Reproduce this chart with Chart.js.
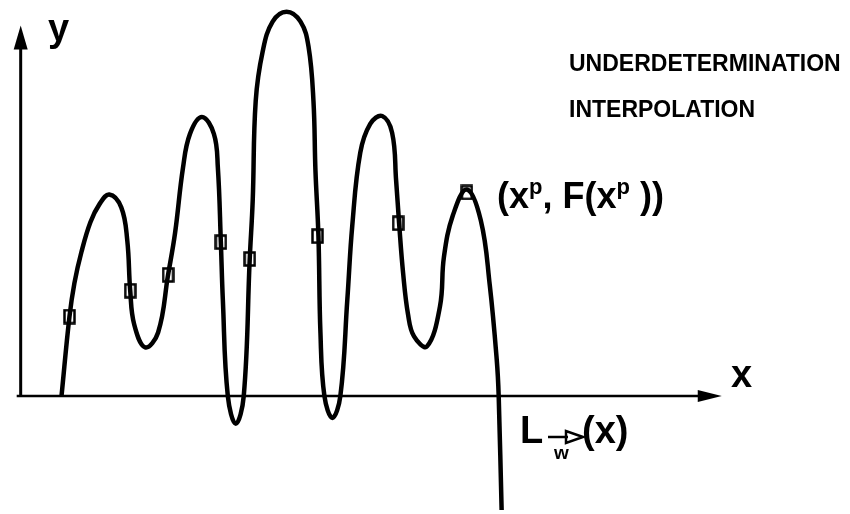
<!DOCTYPE html>
<html>
<head>
<meta charset="utf-8">
<script src="https://cdn.jsdelivr.net/npm/chart.js@4.4.1/dist/chart.umd.min.js"></script>
<style>
  html,body{margin:0;padding:0;background:#fff;}
  #wrap{width:850px;height:514px;}
</style>
</head>
<body>
<div id="wrap"><canvas id="c" width="850" height="514"></canvas></div>
<script>
// curve L_w(x) (x axis at y=0, y axis at x=0)
const curveX=[0.41,0.49,0.54,0.61,0.70,0.79,0.89,1.01,1.07,1.10,1.14,1.25,1.38,1.48,1.55,1.63,1.70,1.82,1.94,1.98,2.01,2.03,2.08,2.16,2.24,2.30,2.33,2.36,2.43,2.53,2.67,2.81,2.89,2.94,2.96,2.99,3.01,3.05,3.13,3.21,3.28,3.33,3.41,3.51,3.63,3.73,3.77,3.80,3.84,3.89,3.95,4.08,4.21,4.25,4.34,4.48,4.62,4.71,4.78,4.80,4.83,4.84];
const curveY=[0,0.80,1.14,1.45,1.75,1.93,2.03,1.90,1.57,1.06,0.72,0.49,0.64,1.22,1.64,2.30,2.64,2.81,2.64,2.30,1.55,0.97,0,-0.28,0,1.38,1.97,2.97,3.47,3.77,3.87,3.77,3.52,2.97,2.27,1.61,0.64,0,-0.22,0,0.97,1.72,2.45,2.74,2.82,2.65,2.17,1.74,1.24,0.82,0.60,0.50,0.90,1.40,1.82,2.08,1.77,1.12,0.37,0,-1.17,-1.43];
// sample points (x^p, F(x^p))
const sampleX=[0.49,1.10,1.48,2.01,2.30,2.98,3.79,4.48];
const sampleY=[0.80,1.06,1.22,1.55,1.38,1.61,1.74,2.05];

// ranges chosen so that the (slightly inset) chart area shows 100 px per unit
const X_MIN=-0.1675, X_MAX=8.2875, Y_MIN=-1.1475, Y_MAX=3.9475;
const AXIS_X_START=-0.04, AXIS_X_END=7.04, AXIS_Y_END=3.73;

// tall open box used as marker
function boxMarker(){
  const c=document.createElement('canvas'); c.width=13; c.height=16;
  const g=c.getContext('2d');
  g.fillStyle='#fff'; g.fillRect(1.5,1.5,10,13);
  g.strokeStyle='#000'; g.lineWidth=2.5; g.strokeRect(1.5,1.5,10,13);
  return c;
}

const FONT='"Liberation Sans", Arial, Helvetica, sans-serif';

const decor={
  id:'decor',
  beforeDatasetsDraw(chart){
    const {ctx,scales:{x,y}}=chart;
    const x0=x.getPixelForValue(0), y0=y.getPixelForValue(0);
    const xe=x.getPixelForValue(AXIS_X_END), ye=y.getPixelForValue(AXIS_Y_END);
    ctx.save();
    ctx.strokeStyle='#000'; ctx.fillStyle='#000';
    // x axis
    ctx.lineWidth=2.5;
    ctx.beginPath(); ctx.moveTo(x.getPixelForValue(AXIS_X_START),y0); ctx.lineTo(xe-20,y0); ctx.stroke();
    ctx.beginPath(); ctx.moveTo(xe,y0); ctx.lineTo(xe-24,y0-6); ctx.lineTo(xe-24,y0+6); ctx.closePath(); ctx.fill();
    // y axis
    ctx.lineWidth=3;
    ctx.beginPath(); ctx.moveTo(x0,y0); ctx.lineTo(x0,ye+20); ctx.stroke();
    ctx.beginPath(); ctx.moveTo(x0,ye); ctx.lineTo(x0-7,ye+24); ctx.lineTo(x0+7,ye+24); ctx.closePath(); ctx.fill();
    ctx.restore();
  },
  afterDraw(chart){
    const {ctx}=chart;
    ctx.save();
    ctx.fillStyle='#000'; ctx.textBaseline='alphabetic'; ctx.textAlign='left';
    ctx.font='bold 38px '+FONT;
    ctx.fillText('y',48,41);
    ctx.fillText('x',731,387);
    ctx.font='bold 23px '+FONT;
    ctx.fillText('UNDERDETERMINATION',569,71);
    ctx.fillText('INTERPOLATION',569,117);
    // (x^p, F(x^p ))
    let px=497; const base=208;
    const big='bold 36px '+FONT, sup='bold 22px '+FONT;
    const put=(t,f,dy)=>{ctx.font=f; ctx.fillText(t,px,base+dy); px+=ctx.measureText(t).width;};
    put('(x',big,0); put('p',sup,-14); put(', F(x',big,0); put('p',sup,-14); put(' ))',big,0);
    // L_w(x)
    ctx.font='bold 38px '+FONT;
    ctx.fillText('L',520,443);
    ctx.lineWidth=2.5; ctx.strokeStyle='#000';
    ctx.beginPath(); ctx.moveTo(548,437); ctx.lineTo(568,437); ctx.stroke();
    ctx.beginPath(); ctx.moveTo(583,437); ctx.lineTo(566,431); ctx.lineTo(566,443); ctx.closePath();
    ctx.lineWidth=2.5; ctx.stroke();
    ctx.font='bold 19px '+FONT;
    ctx.fillText('w',554,459);
    ctx.font='bold 38px '+FONT;
    ctx.fillText('(x)',582,443);
    ctx.restore();
  }
};

new Chart(document.getElementById('c'),{
  type:'scatter',
  data:{datasets:[
    {label:'L_w(x)',data:curveX.map((v,i)=>({x:v,y:curveY[i]})),showLine:true,
     borderColor:'#000',borderWidth:4.5,pointRadius:0,tension:0.4,fill:false},
    {label:'samples',data:sampleX.map((v,i)=>({x:v,y:sampleY[i]})),showLine:false,
     pointStyle:boxMarker(),pointRadius:0.5,pointBorderWidth:0}
  ]},
  options:{
    responsive:false,animation:false,
    layout:{padding:0},
    plugins:{legend:{display:false},tooltip:{enabled:false}},
    scales:{
      x:{type:'linear',min:X_MIN,max:X_MAX,display:false},
      y:{type:'linear',min:Y_MIN,max:Y_MAX,display:false}
    }
  },
  plugins:[decor]
});
</script>
</body>
</html>
